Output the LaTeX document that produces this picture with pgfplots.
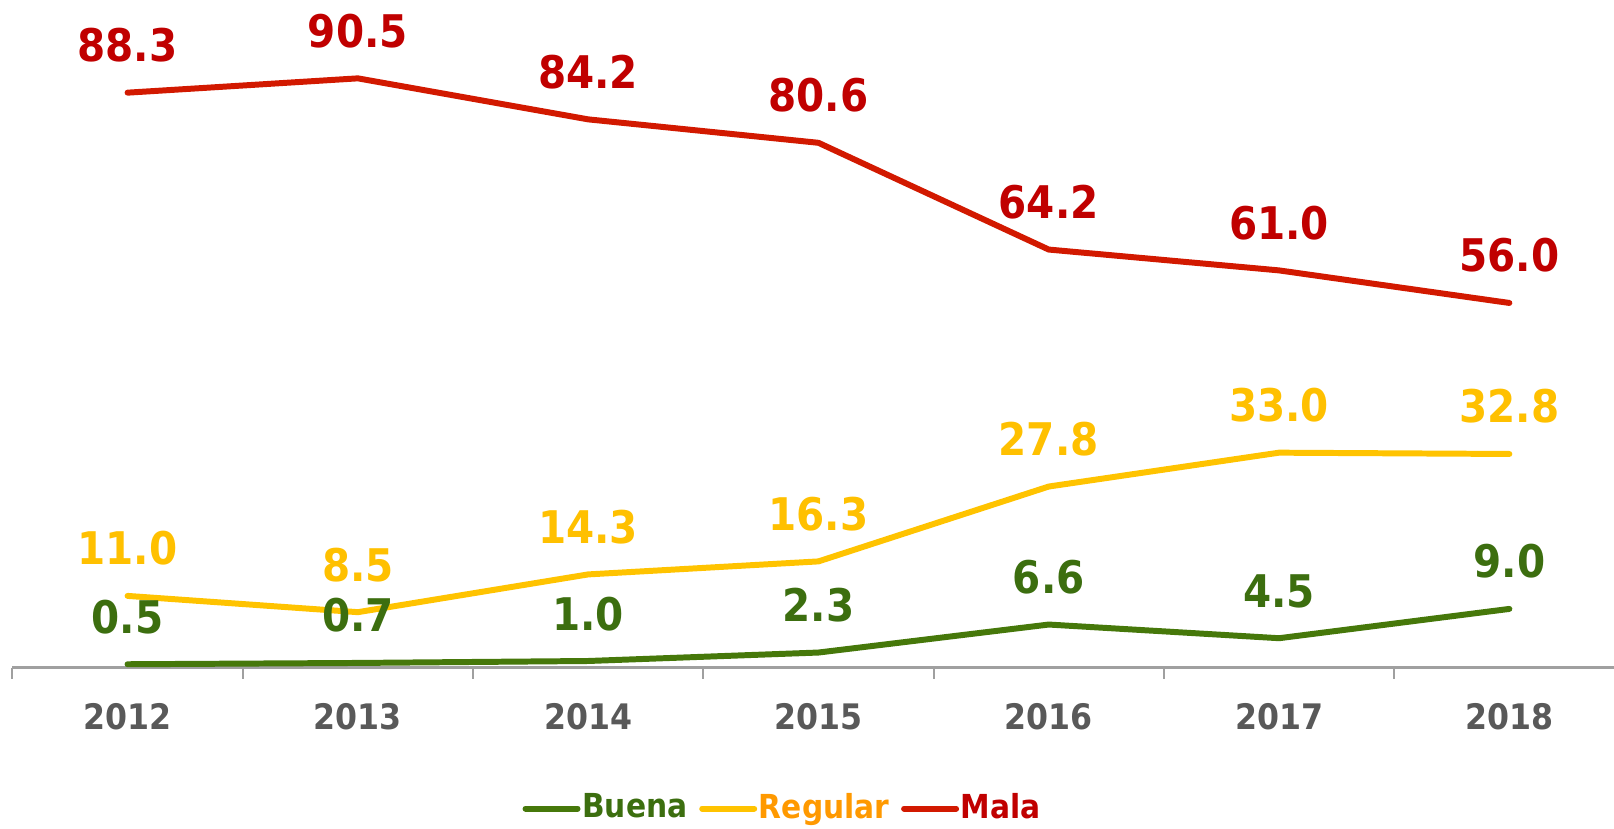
\documentclass[border=0pt]{standalone}
\usepackage{fontspec}
\setmainfont{DejaVu Sans Condensed}
\usepackage{pgfplots}
\pgfplotsset{compat=1.18}
\definecolor{gline}{RGB}{70,120,10}
\definecolor{glab}{RGB}{60,110,15}
\definecolor{rline}{RGB}{210,25,0}
\definecolor{rlab}{RGB}{192,0,0}
\definecolor{yline}{RGB}{255,195,0}
\definecolor{ylab}{RGB}{255,192,0}
\definecolor{yleg}{RGB}{255,153,0}
\definecolor{tgray}{RGB}{89,89,89}
\definecolor{agray}{RGB}{160,160,160}
\begin{document}
\begin{tikzpicture}
\begin{axis}[
  scale only axis, width=16.121cm, height=6.51cm,
  xmin=-0.5, xmax=6.5, ymin=0, ymax=100,
  clip=false,
  axis x line*=bottom, axis y line=none,
  x axis line style={agray, line width=0.6pt},
  xtick={0,...,6}, xticklabels={2012,2013,2014,2015,2016,2017,2018},
  major tick length=0pt,
  minor xtick={-0.5,0.5,...,6.5},
  minor tick length=0.11cm,
  tick align=outside,
  every tick/.style={agray, line width=0.6pt},
  xticklabel style={anchor=base, yshift=-0.62cm, font=\fontsize{10}{12}\selectfont\bfseries, text=tgray},
  /pgf/number format/.cd, fixed, fixed zerofill, precision=1, assume math mode=true, /pgfplots/.cd,
  nodes near coords,
  nodes near coords style={anchor=base, yshift=0.31cm, font=\fontsize{12.8}{14}\selectfont\bfseries},
  legend columns=-1,
  legend style={draw=none, fill=none, at={(0.4777,-0.2166)}, anchor=center,
    font=\fontsize{9.4}{11}\selectfont\bfseries,
    /tikz/every even column/.append style={column sep=0.1cm},
    inner sep=0pt, nodes={inner sep=0.5pt}},
  legend image code/.code={\draw[#1, line cap=round] (0cm,0cm) -- (0.52cm,0cm);},
]
\addplot[gline, line width=1.7pt, line cap=round, line join=round, every node near coord/.append style={text=glab}]
  coordinates {(0,0.5) (1,0.7) (2,1.0) (3,2.3) (4,6.6) (5,4.5) (6,9.0)};
\addlegendentry{\textcolor{glab}{Buena}}
\addplot[yline, line width=1.7pt, line cap=round, line join=round, every node near coord/.append style={text=ylab}]
  coordinates {(0,11.0) (1,8.5) (2,14.3) (3,16.3) (4,27.8) (5,33.0) (6,32.8)};
\addlegendentry{\textcolor{yleg}{Regular}}
\addplot[rline, line width=1.7pt, line cap=round, line join=round, every node near coord/.append style={text=rlab}]
  coordinates {(0,88.3) (1,90.5) (2,84.2) (3,80.6) (4,64.2) (5,61.0) (6,56.0)};
\addlegendentry{\textcolor{rlab}{Mala}}
\end{axis}
\pgfresetboundingbox
\path ([shift={(-0.124cm,-1.605cm)}]current axis.south west) rectangle ([shift={(-0.105cm,0.165cm)}]current axis.north east);
\end{tikzpicture}
\end{document}
